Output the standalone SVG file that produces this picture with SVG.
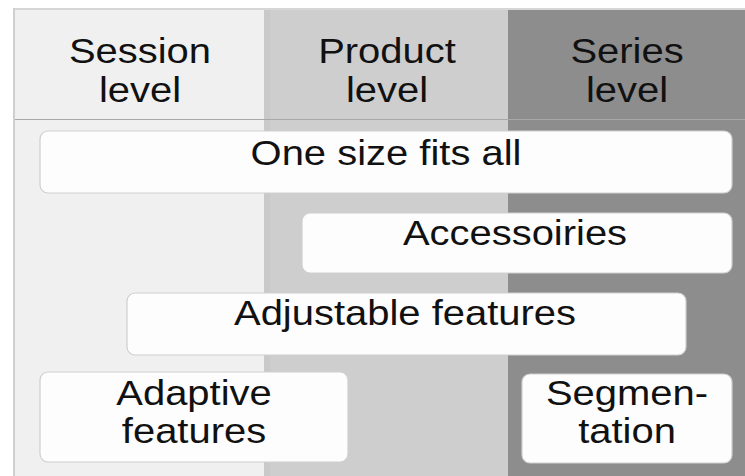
<svg xmlns="http://www.w3.org/2000/svg" width="745" height="476" viewBox="0 0 745 476">
<style>
.t{font-family:"Liberation Sans",Arial,sans-serif;font-size:36px;fill:#111;text-anchor:middle}
.box{fill:#fdfdfd;stroke:#cfcfcf;stroke-width:1.2}
</style>
<rect x="0" y="0" width="745" height="476" fill="#ffffff"/>
<g id="columns">
<rect x="13" y="8" width="251" height="468" fill="#f0f0f0"/>
<rect x="264" y="8" width="244" height="468" fill="#cecece"/>
<rect x="264" y="8" width="6" height="468" fill="#c9c9c9"/>
<rect x="508" y="8" width="237" height="468" fill="#8d8d8d"/>
<line x1="13" y1="9" x2="745" y2="9" stroke="#d6d6d6" stroke-width="2"/>
<line x1="14" y1="8" x2="14" y2="476" stroke="#cfcfcf" stroke-width="2"/>
<line x1="15" y1="119.5" x2="745" y2="119.5" stroke="#a8a8a8" stroke-width="1"/>
</g>
<g id="header-session"><text class="t" transform="translate(140,63) scale(1.11,1)"><tspan x="0" y="0">Session</tspan><tspan x="0" y="39">level</tspan></text></g>
<g id="header-product"><text class="t" transform="translate(387,63) scale(1.11,1)"><tspan x="0" y="0">Product</tspan><tspan x="0" y="39">level</tspan></text></g>
<g id="header-series"><text class="t" transform="translate(627,63) scale(1.11,1)"><tspan x="0" y="0">Series</tspan><tspan x="0" y="39">level</tspan></text></g>
<g id="one-size">
<rect class="box" x="40" y="131" width="692" height="62" rx="8"/>
<text class="t" transform="translate(386,165) scale(1.11,1)">One size fits all</text>
</g>
<g id="accessoiries">
<rect class="box" x="302" y="213" width="430" height="60" rx="8"/>
<text class="t" transform="translate(515,245) scale(1.11,1)">Accessoiries</text>
</g>
<g id="adjustable">
<rect class="box" x="127" y="293" width="559" height="62" rx="8"/>
<text class="t" transform="translate(405,325) scale(1.11,1)">Adjustable features</text>
</g>
<g id="adaptive">
<rect class="box" x="40" y="372" width="308" height="90" rx="8"/>
<text class="t" transform="translate(194,405) scale(1.11,1)"><tspan x="0" y="0">Adaptive</tspan><tspan x="0" y="38">features</tspan></text>
</g>
<g id="segmentation">
<rect class="box" x="522" y="374" width="210" height="89" rx="8"/>
<text class="t" transform="translate(627,405) scale(1.11,1)"><tspan x="0" y="0">Segmen-</tspan><tspan x="0" y="38">tation</tspan></text>
</g>
<g id="connectors"></g>
</svg>
